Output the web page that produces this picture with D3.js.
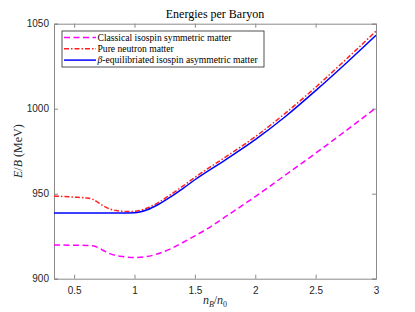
<!DOCTYPE html>
<html><head><meta charset="utf-8">
<script src="https://cdn.jsdelivr.net/npm/d3@7"></script>
<style>body{margin:0;background:#fff}</style>
</head><body>
<svg id="c" width="415" height="312"></svg>
<script>
const xTicks = [0.5, 1, 1.5, 2, 2.5, 3];
const yTicks = [900, 950, 1000, 1050];
const seriesNames = ["Classical isospin symmetric matter", "Pure neutron matter", "β-equilibriated isospin asymmetric matter"];

const classicalX = [0.333,0.5,0.6,0.65,0.7,0.75,0.8,0.9,1.0,1.1,1.2,1.3,1.4,1.5,1.6,1.75,2.0,2.25,2.5,2.75,3.0];
const classicalY = [919.8,919.7,919.6,919.4,918.3,916.3,914.6,913.0,912.5,913.0,914.8,917.6,921.3,925.2,929.3,936.3,948.3,961.0,973.8,987.0,1000.5];

const neutronX = [0.333,0.4,0.5,0.6,0.65,0.7,0.75,0.8,0.85,0.9,0.95,1.0,1.1,1.2,1.3,1.4,1.5,1.75,2.0,2.25,2.5,2.75,3.0];
const neutronY = [948.6,948.4,948.0,947.5,946.8,944.8,942.5,940.9,940.1,939.7,939.5,939.6,941.4,944.9,949.5,954.4,959.6,971.4,983.5,997.4,1012.6,1028.9,1045.6];

const betaX = [0.333,0.5,0.7,0.9,1.0,1.1,1.2,1.3,1.4,1.5,1.75,2.0,2.25,2.5,2.75,3.0];
const betaY = [938.7,938.7,938.7,938.7,938.8,940.4,943.8,948.2,953.0,958.2,969.8,981.8,995.4,1010.6,1026.6,1043.2];

const svg = d3.select("#c");
const L = 54, R = 376, T = 23.7, B = 278.7;
const x = d3.scaleLinear().domain([1/3, 3]).range([L, R]);
const y = d3.scaleLinear().domain([900, 1050]).range([B, T]);
const axisCol = "#8a8a8a", textCol = "#262626";
const serif = "Liberation Serif, Times New Roman, serif";

svg.append("clipPath").attr("id","clip").append("rect").attr("x",L).attr("y",T).attr("width",R-L).attr("height",B-T);

const gx = svg.append("g").attr("transform",`translate(0,${B})`)
  .call(d3.axisBottom(x).tickValues(xTicks).tickSize(-4).tickPadding(8).tickFormat(d3.format("")));
const gxt = svg.append("g").attr("transform",`translate(0,${T})`)
  .call(d3.axisTop(x).tickValues(xTicks).tickSize(-4).tickFormat(""));
const gy = svg.append("g").attr("transform",`translate(${L},0)`)
  .call(d3.axisLeft(y).tickValues(yTicks).tickSize(-4).tickPadding(5).tickFormat(d3.format("d")));
const gyr = svg.append("g").attr("transform",`translate(${R},0)`)
  .call(d3.axisRight(y).tickValues(yTicks).tickSize(-4).tickFormat(""));
[gx,gxt,gy,gyr].forEach(g=>{
  g.select(".domain").attr("stroke",axisCol).attr("stroke-width",1);
  g.selectAll(".tick line").attr("stroke",axisCol);
  g.selectAll("text").attr("fill",textCol).style("font-family","Liberation Sans, Arial, sans-serif").style("font-size","10px");
});

const line = d3.line().x(d=>x(d[0])).y(d=>y(d[1])).curve(d3.curveMonotoneX);
const plot = svg.append("g").attr("clip-path","url(#clip)");
const styles = [
  {col:"#ff00ff", dash:"6,3.5"},
  {col:"#ff2020", dash:"5,2,1.5,2"},
  {col:"#0000ff", dash:null}
];
const data = [
  d3.zip(classicalX, classicalY),
  d3.zip(neutronX, neutronY),
  d3.zip(betaX, betaY)
];
data.forEach((d,i)=>{
  plot.append("path").datum(d).attr("d",line).attr("fill","none")
    .attr("stroke",styles[i].col).attr("stroke-width",1.5)
    .attr("stroke-dasharray",styles[i].dash);
});

svg.append("text").attr("x",(L+R)/2).attr("y",18).attr("text-anchor","middle")
  .style("font-family",serif).style("font-size","12px").attr("fill","#000")
  .text("Energies per Baryon");

const xl = svg.append("text").attr("x",(L+R)/2).attr("y",304).attr("text-anchor","middle")
  .style("font-family",serif).style("font-size","12px").attr("fill",textCol);
xl.append("tspan").style("font-style","italic").text("n");
xl.append("tspan").attr("dy",2.5).style("font-size","8px").style("font-style","italic").text("B");
xl.append("tspan").attr("dy",-2.5).text("/");
xl.append("tspan").style("font-style","italic").text("n");
xl.append("tspan").attr("dy",2.5).style("font-size","8px").text("0");

const yl = svg.append("text").attr("transform",`translate(22,${(T+B)/2}) rotate(-90)`).attr("text-anchor","middle")
  .style("font-family",serif).style("font-size","12px").attr("fill",textCol);
yl.append("tspan").style("font-style","italic").text("E");
yl.append("tspan").text("/");
yl.append("tspan").style("font-style","italic").text("B");
yl.append("tspan").text(" (MeV)");

const lg = svg.append("g");
lg.append("rect").attr("x",62).attr("y",31).attr("width",202).attr("height",36)
  .attr("fill","#fff").attr("stroke","#262626").attr("stroke-width",0.8);
seriesNames.forEach((name,i)=>{
  const yy = 37.5 + i*11.3;
  lg.append("line").attr("x1",64).attr("x2",96).attr("y1",yy).attr("y2",yy)
    .attr("stroke",styles[i].col).attr("stroke-width",1.5).attr("stroke-dasharray",styles[i].dash);
  const t = lg.append("text").attr("x",97.5).attr("y",yy+3.3)
    .style("font-family",serif).style("font-size","9.6px").attr("fill","#000");
  if (name.startsWith("β")) {
    t.append("tspan").style("font-style","italic").text("β");
    t.append("tspan").text(name.slice(1));
  } else t.text(name);
});
</script>
</body></html>
